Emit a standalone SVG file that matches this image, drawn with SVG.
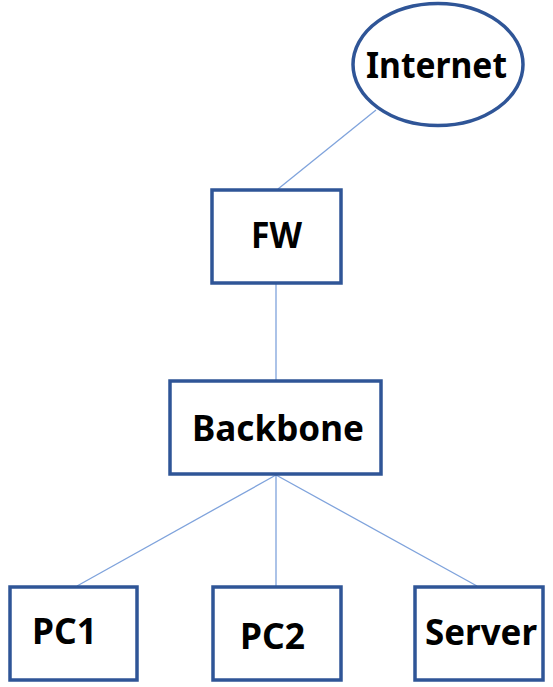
<svg xmlns="http://www.w3.org/2000/svg" width="553" height="687" viewBox="0 0 553 687">
<style>
.box{fill:#fff;stroke:#2F5597;stroke-width:3.5}
.lbl{font-family:"Noto Sans","Open Sans","DejaVu Sans",sans-serif;font-weight:bold;font-size:35px;fill:#000}
.conn{stroke:#7FA3DC;stroke-width:1.3;fill:none}
</style>
<rect width="553" height="687" fill="#fff"/>
<g id="connectors">
<line class="conn" x1="376" y1="110" x2="278" y2="189"/>
<line class="conn" x1="276" y1="284" x2="276" y2="380"/>
<line class="conn" x1="276" y1="475" x2="77" y2="586"/>
<line class="conn" x1="276" y1="475" x2="276" y2="586"/>
<line class="conn" x1="276" y1="475" x2="477" y2="586"/>
</g>
<g id="internet">
<ellipse class="box" cx="438" cy="64.5" rx="85" ry="61"/>
<text class="lbl" x="366" y="78" textLength="141" lengthAdjust="spacingAndGlyphs">Internet</text>
</g>
<g id="fw">
<rect class="box" x="212" y="190" width="129" height="93"/>
<text class="lbl" x="251" y="248" textLength="51" lengthAdjust="spacingAndGlyphs">FW</text>
</g>
<g id="backbone">
<rect class="box" x="170" y="381" width="211" height="93"/>
<text class="lbl" x="192" y="441" textLength="172" lengthAdjust="spacingAndGlyphs">Backbone</text>
</g>
<g id="pc1">
<rect class="box" x="10" y="587" width="127" height="93"/>
<text class="lbl" x="32" y="644" textLength="65" lengthAdjust="spacingAndGlyphs">PC1</text>
</g>
<g id="pc2">
<rect class="box" x="213" y="587" width="128" height="93"/>
<text class="lbl" x="240" y="649" textLength="65" lengthAdjust="spacingAndGlyphs">PC2</text>
</g>
<g id="server">
<rect class="box" x="415" y="587" width="128" height="93"/>
<text class="lbl" x="425" y="645" textLength="112" lengthAdjust="spacingAndGlyphs">Server</text>
</g>
</svg>
